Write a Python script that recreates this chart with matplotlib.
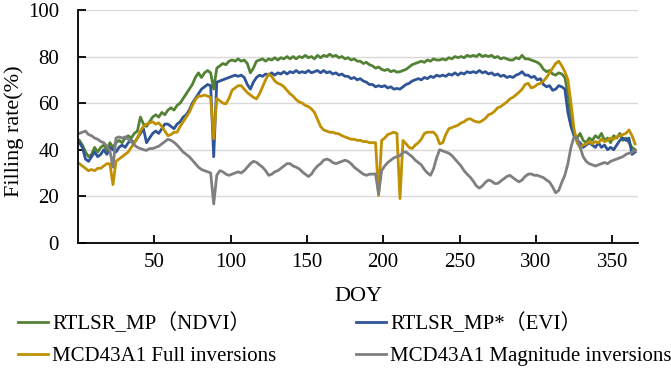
import numpy as np
import matplotlib
matplotlib.use("Agg")
import matplotlib.pyplot as plt

plt.rcParams['font.family'] = ['Liberation Serif', 'Noto Sans CJK SC']

# day of year (every second day)
doy = list(range(1, 366, 2))

ndvi = [
    44, 42, 39, 37, 38, 41, 39, 41, 42, 40,
    43, 41, 43, 44, 43, 45, 46, 45, 47, 48,
    54, 51, 50, 52, 54, 55, 54, 56, 55, 57,
    58, 57, 59, 60, 62, 64, 66, 68, 71, 73,
    71, 73, 74, 73, 66, 75, 76, 77, 76.5, 78,
    78.5, 78, 79, 78, 78.5, 77, 73, 75, 78, 78.5,
    79, 78, 79, 78.5, 79.5, 78.5, 79.5, 79, 80, 79,
    80, 79, 80, 79.5, 80.5, 79.5, 80, 79, 80.5, 79.5,
    80.5, 80, 81, 80, 80.5, 79.5, 80, 79, 79.5, 78.5,
    79, 78, 78, 77, 77.5, 76.5, 76, 75, 75.5, 74.5,
    74, 74.5, 73.5, 74, 73.3, 73.5, 74, 74.5, 75.5, 76.5,
    77, 77.5, 78, 77.5, 78.5, 78, 79, 78.5, 78.5, 79,
    78.5, 79.5, 79, 80, 79.5, 80, 79.5, 80.5, 80, 80.5,
    80, 81, 80, 80.5, 80, 80.5, 79.5, 80, 79, 79.5,
    79, 78.5, 78.5, 79.5, 79, 80.5, 79, 79, 78.5, 78,
    77.5, 76.5, 74.5, 73.5, 74, 72.5, 72, 73, 72.5, 71,
    64, 53, 47, 45, 47, 44, 43, 45, 44, 46,
    45, 47, 44, 45, 43, 46, 45, 47, 44, 45,
    43, 41, 40,
]

evi = [
    43, 41, 36, 35, 37, 39, 37, 38, 40, 38,
    41, 40, 39, 41, 42, 41, 43, 44, 43, 45,
    47, 49, 43, 45, 47, 48, 47, 49, 51, 51,
    50, 49, 51, 52, 54, 55, 57, 60, 62, 64,
    66, 67, 68, 67.5, 37, 69, 69.5, 70, 70.5, 71,
    71.5, 72, 71.5, 72, 71, 68, 66, 69, 71, 72,
    71.5, 72.5, 72, 73, 72, 73, 72.5, 73.5, 72.5, 73.5,
    73, 74, 73, 73.5, 73, 74, 73, 73.5, 74, 73,
    74, 73, 73.5, 72.5, 73, 72, 72.5, 71.5, 71.5, 70.5,
    71, 70, 70.5, 69.5, 69, 68, 68, 67, 67.5, 67,
    67.5, 66.5, 67, 66, 66.3, 66, 67, 68, 68.5, 69.5,
    70, 70.5, 70, 71, 70.5, 71.5, 71, 72, 71.5, 72,
    71.5, 72.5, 72, 73, 72, 73, 72.5, 73.5, 73, 73.5,
    73, 74, 73, 73.5, 72.5, 73, 72, 72.5, 71.5, 72,
    71, 71.5, 71, 72, 72.5, 73.5, 72, 72, 71, 71.5,
    70, 70.5, 68, 67, 67.5, 65.5, 66, 67.5, 67, 66,
    56, 50, 46, 44, 43, 41, 42, 43, 42, 41,
    43, 41, 42, 40, 41, 40, 42, 44, 45, 44,
    45, 38, 39,
]

full_inv = [
    34, 33, 32, 31, 31.5, 31, 32, 32, 33, 34,
    34, 25, 35, 36, 37, 38, 39, 41, 43, 45,
    48, 50, 51, 51.5, 52, 51, 51.5, 50, 48, 46,
    46.5, 47.5, 47.5, 50, 52, 54, 56, 59, 61.5, 63,
    63, 63.5, 63, 62.5, 44.7, 62, 61, 60, 59.7, 62,
    65.5, 66.5, 67.5, 67.5, 66, 64.5, 63.5, 62.5, 61.8, 64,
    67, 70, 72.5, 71.5, 69.5, 68.5, 68, 67, 65.5, 64,
    63, 61.5, 60.5, 60, 59, 58.5, 57.5, 56, 53, 50,
    48.5, 48, 47.5, 47.5, 47, 46.8, 46, 45.5, 45, 44.5,
    44.5, 44, 44, 43.5, 43.5, 43, 43, 43, 20.3, 44,
    45, 46.5, 47, 47.5, 47, 19, 44, 42.5, 41, 40.5,
    42, 43, 44.5, 47, 47.5, 47.5, 47.5, 46, 42.5, 43,
    46.5, 49, 49.5, 50, 50.5, 51.5, 52, 53, 53.3, 52.5,
    52, 51.8, 52.5, 53.5, 55, 55.5, 56.5, 58, 58.5, 59.5,
    60.5, 61.8, 62.5, 63.5, 64.7, 66, 68, 68.5, 66.5, 67,
    68, 68.5, 69.5, 71, 73, 75, 77, 78, 76, 73.5,
    70, 60, 49, 43, 41, 42, 42.5, 43.5, 42.5, 43.5,
    43, 44.5, 43.5, 44, 45, 44.5, 45.5, 46, 46.5, 47,
    48.5, 46, 42.5,
]

mag_inv = [
    47, 47.5, 48, 46.5, 46, 45, 44.5, 43.5, 43, 41.5,
    39.5, 32.5, 45, 45.5, 45, 45.5, 44.5, 43.5, 42, 41,
    40.5, 40, 39.7, 40.5, 40.5, 41, 41.5, 42.5, 43.5, 44.5,
    44, 43.2, 42, 40.5, 39, 38, 37, 35.5, 34, 32.5,
    31.5, 31, 30.5, 30, 16.7, 29, 31, 30.5, 29.5, 29,
    29.5, 30, 30.5, 30, 31, 32.5, 34, 35, 34.6, 33.5,
    32.5, 31, 29, 29.5, 30.5, 31, 32, 33, 34, 34,
    33, 32.5, 31.8, 30.5, 29.5, 28.5, 29.5, 31.5, 33, 34,
    35.5, 36, 35.5, 34.5, 34, 34.5, 35, 35.5, 35, 34,
    32.5, 31.5, 30.5, 29.5, 29, 29.5, 29.5, 29.6, 21, 31,
    33, 34.5, 35.5, 36.5, 37, 37.5, 38.9, 39, 38, 37,
    35.5, 34.5, 33.5, 31.5, 30, 29, 31.8, 36.5, 40, 39.5,
    39, 38.5, 37.5, 36, 34.5, 33, 31, 29.5, 28.2, 26.5,
    24.5, 23.5, 24.5, 26, 27, 26.5, 25.5, 25.5, 26.5, 27.5,
    28.5, 29, 28, 27, 26.2, 27, 28.5, 29.5, 29.6, 29,
    29, 28.5, 28, 27, 26.1, 24, 21.5, 22.5, 26, 29,
    34, 41, 45.5, 45, 41, 37, 35, 34, 33.5, 33,
    33.5, 34, 34.5, 34, 35, 35.5, 36, 36.5, 37, 38,
    38.5, 38.9, 39.7,
]

labels = ['RTLSR_MP（NDVI）', 'RTLSR_MP*（EVI）',
          'MCD43A1 Full inversions', 'MCD43A1 Magnitude inversions']
colors = ['#548235', '#2F5597', '#BF9000', '#7F7F7F']

fig = plt.figure(figsize=(6.71, 3.68), dpi=100)
ax = fig.add_subplot(111)
fig.subplots_adjust(left=0.116, right=0.951, top=0.973, bottom=0.340)

lines = []
for ys, lab, c in zip([ndvi, evi, full_inv, mag_inv], labels, colors):
    ln, = ax.plot(doy, ys, color=c, lw=2, label=lab)
    lines.append(ln)

ax.set_xlim(0, 367)
ax.set_ylim(0, 100)
ax.set_xticks(range(50, 351, 50))
ax.set_yticks(range(0, 101, 20))
ax.grid(axis='y', color='#D9D9D9', lw=1)
ax.set_axisbelow(True)
for s in ['top', 'right']:
    ax.spines[s].set_visible(False)
for s in ['left', 'bottom']:
    ax.spines[s].set_linewidth(1.3)
ax.tick_params(direction='in', length=6, width=1.3, labelsize=15)
ax.tick_params(axis='y', pad=13.5)
ax.tick_params(axis='x', pad=7)
ax.set_xlabel('DOY', fontsize=16)
ax.set_ylabel('Filling rate(%)', fontsize=16)
ax.xaxis.set_label_coords(0.5, -0.232)
ax.xaxis.label.set_va('center')
ax.yaxis.set_label_coords(-0.114, 0.48)
ax.yaxis.label.set_va('center')

# legend filled column-wise -> reorder so rows read green/blue, gold/gray
order = [0, 2, 1, 3]
fig.legend([lines[i] for i in order], [labels[i] for i in order],
           ncol=2, loc='upper left', bbox_to_anchor=(0.027, 0.148),
           frameon=False, fontsize=15, handlelength=1.45, handletextpad=0.2,
           columnspacing=3.8, labelspacing=0.6, borderaxespad=0, borderpad=0)

fig.savefig('out.png', dpi=100)
